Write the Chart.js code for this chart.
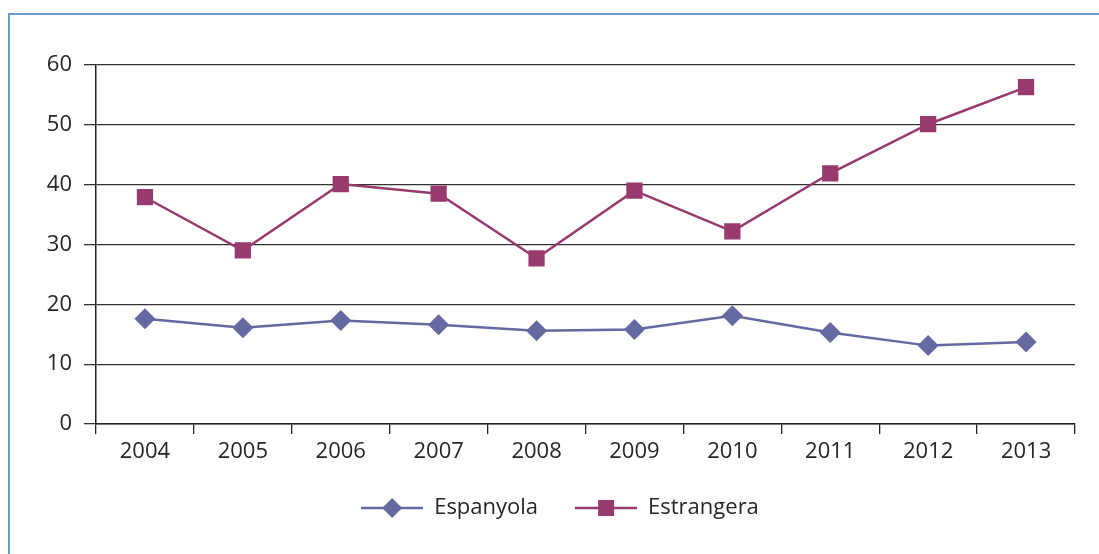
<!DOCTYPE html>
<html>
<head>
<meta charset="utf-8">
<script src="https://cdn.jsdelivr.net/npm/chart.js@4.4.1/dist/chart.umd.min.js"></script>
<style>
  html, body { margin: 0; padding: 0; background: #fff; }
  #wrap { position: relative; width: 1099px; height: 554px; overflow: hidden; }
  #frame { position: absolute; left: 8px; top: 13px; right: -10px; bottom: -10px;
           border-left: 2px solid #6a9fd0; border-top: 2px solid #6a9fd0; pointer-events: none; }
  canvas { position: absolute; left: 0; top: 0; }
</style>
</head>
<body>
<div id="wrap">
  <div id="frame"></div>
  <canvas id="chart" width="1099" height="554"></canvas>
</div>
<script>
// --- data ---
const years = ['2004', '2005', '2006', '2007', '2008', '2009', '2010', '2011', '2012', '2013'];
const espanyola = [17.6, 16.1, 17.3, 16.6, 15.6, 15.8, 18.1, 15.3, 13.1, 13.7];
const estrangera = [37.9, 29.0, 40.1, 38.5, 27.7, 39.0, 32.2, 41.9, 50.1, 56.3];

const blue = '#646aa1';
const plum = '#993a6e';
const textColor = '#262626';
const fontFamily = '"Open Sans", "Noto Sans", sans-serif';

// legend symbol: short line with the marker in the middle
function legendSymbol(color, shape) {
    const c = document.createElement('canvas');
    c.width = 62; c.height = 22;
    const g = c.getContext('2d');
    g.strokeStyle = color;
    g.lineWidth = 2.5;
    g.beginPath(); g.moveTo(0, 11); g.lineTo(62, 11); g.stroke();
    g.fillStyle = color;
    if (shape === 'diamond') {
        g.beginPath();
        g.moveTo(31, 1); g.lineTo(41, 11); g.lineTo(31, 21); g.lineTo(21, 11);
        g.closePath(); g.fill();
    } else {
        g.fillRect(23, 3, 16, 16);
    }
    return c;
}
const symbols = [legendSymbol(blue, 'diamond'), legendSymbol(plum, 'square')];

new Chart(document.getElementById('chart'), {
    type: 'line',
    data: {
        labels: years,
        datasets: [
            { label: 'Espanyola', data: espanyola, borderColor: blue, backgroundColor: blue,
              borderWidth: 2.5, pointStyle: 'rectRot', pointRadius: 10.5, pointBorderWidth: 0, tension: 0 },
            { label: 'Estrangera', data: estrangera, borderColor: plum, backgroundColor: plum,
              borderWidth: 2.5, pointStyle: 'rect', pointRadius: 11.5, pointBorderWidth: 0, tension: 0 }
        ]
    },
    options: {
        responsive: false,
        animation: false,
        layout: { padding: { left: 45, right: 24, top: 65, bottom: 25 } },
        scales: {
            x: {
                offset: true,
                afterFit: s => { s.height = 36; },
                grid: { offset: true, drawOnChartArea: false, tickLength: 10, color: '#222', lineWidth: 1.3 },
                border: { color: '#222', width: 1.5 },
                ticks: { color: textColor, padding: 5, font: { family: fontFamily, size: 22 } }
            },
            y: {
                min: 0, max: 60,
                afterFit: s => { s.width = 51; },
                grid: { color: '#333', lineWidth: 1.3, tickLength: 12 },
                border: { color: '#222', width: 1.5 },
                ticks: { stepSize: 10, color: textColor, padding: 12, font: { family: fontFamily, size: 22 } }
            }
        },
        plugins: {
            tooltip: { enabled: false },
            legend: {
                position: 'bottom',
                labels: {
                    usePointStyle: true,
                    pointStyleWidth: 62,
                    padding: 37,
                    color: textColor,
                    font: { family: fontFamily, size: 22 },
                    generateLabels: chart => {
                        const items = Chart.defaults.plugins.legend.labels.generateLabels(chart);
                        items.forEach((it, i) => { it.pointStyle = symbols[i]; });
                        return items;
                    }
                }
            }
        }
    }
});
</script>
</body>
</html>
